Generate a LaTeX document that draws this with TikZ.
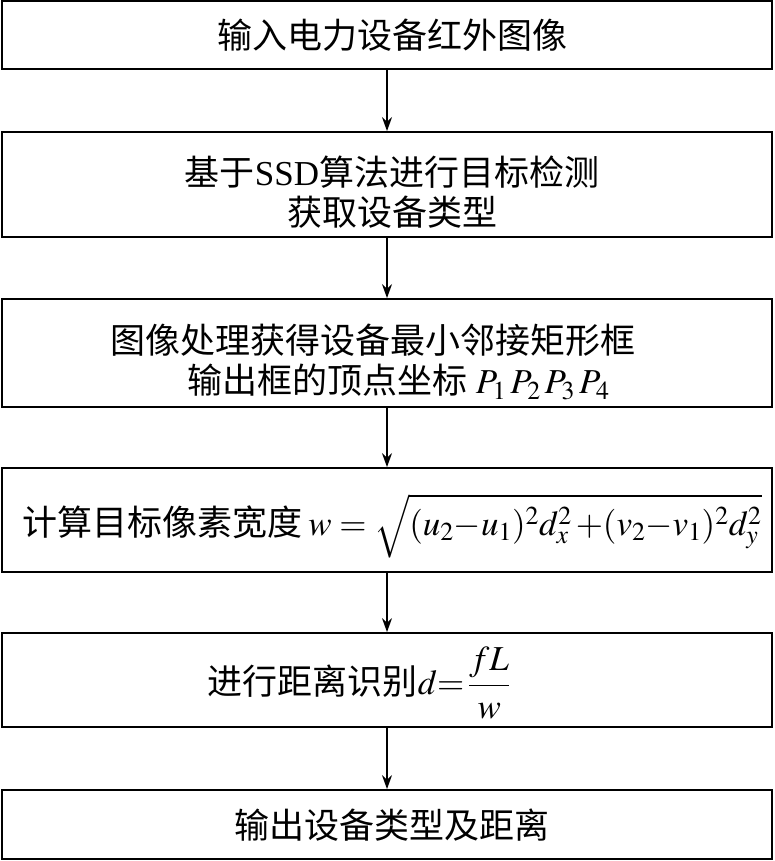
\documentclass[tikz,border=0pt]{standalone}
\usepackage{mathptmx}
\usepackage[no-math]{fontspec}
\setmainfont{Liberation Serif}
\newfontfamily\zhfont{Noto Sans CJK SC}
\newcommand{\zh}[1]{{\zhfont #1}}
\usetikzlibrary{arrows.meta}
\begin{document}
\begin{tikzpicture}[x=1pt,y=-1pt,
  box/.style={draw, line width=1.8pt, minimum width=770pt, inner sep=0pt},
  txt/.style={font=\fontsize{35}{40}\selectfont, align=center, inner sep=0pt},
  arr/.style={-{Stealth[length=14pt,width=10pt]}, line width=1.4pt}]
\useasboundingbox (0,0) rectangle (774,861);
\node[box, minimum height=68pt]  (b1) at (387,35) {};
\node[box, minimum height=105pt] (b2) at (387,184.5) {};
\node[box, minimum height=108pt] (b3) at (387,353) {};
\node[box, minimum height=104pt] (b4) at (387,520) {};
\node[box, minimum height=94pt]  (b5) at (387,680) {};
\node[box, minimum height=69pt]  (b6) at (387,824.5) {};

\node[txt] (t1) at (392,35) {\zh{输入电力设备红外图像}};
\node[txt] (t2) at (392,192) {\zh{基于}SSD\zh{算法进行目标检测}\\\zh{获取设备类型}};
\node[txt, anchor=west] (t3a) at (110,340) {\zh{图像处理获得设备最小邻接矩形框}};
\node[txt, anchor=west] (t3b) at (187,382) {\zh{输出框的顶点坐标} $P_1\,P_2\,P_3\,P_4$};
\node[txt, anchor=base] (t4) at (392,535) {\zh{计算目标像素宽度}\,$w=\sqrt{(u_2{-}u_1)^2d_x^2\,{+}(v_2{-}v_1)^2d_y^2}$};
\node[txt] (t5) at (359,683) {\zh{进行距离识别}$d{=}\,\displaystyle\frac{fL}{w}$};
\node[txt] (t6) at (392,825) {\zh{输出设备类型及距离}};

\draw[arr] (b1.south) -- (b2.north);
\draw[arr] (b2.south) -- (b3.north);
\draw[arr] (b3.south) -- (b4.north);
\draw[arr] (b4.south) -- (b5.north);
\draw[arr] (b5.south) -- (b6.north);
\end{tikzpicture}
\end{document}
